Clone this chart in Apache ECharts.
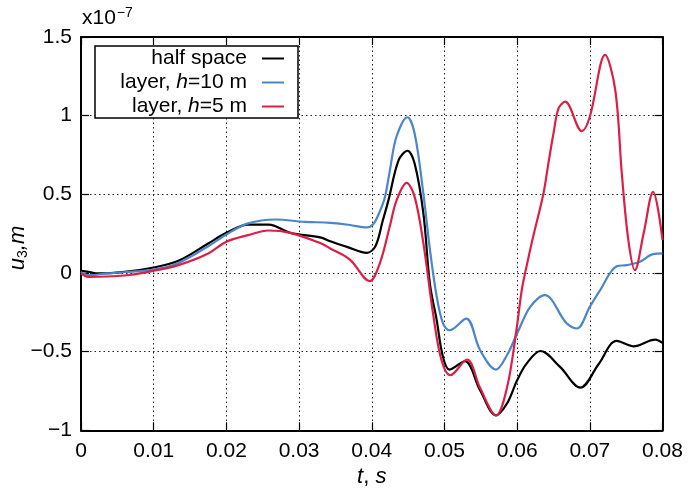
<!DOCTYPE html>
<html><head><meta charset="utf-8">
<script src="https://cdn.jsdelivr.net/npm/echarts@6/dist/echarts.min.js"></script>
<style>html,body{margin:0;padding:0;background:#fff}#c{width:689px;height:498px}</style>
</head><body><div id="c"></div>
<script>
// units: u3 in 1e-7 m, t in s
const halfSpaceT = [0, 0.001, 0.0024, 0.006, 0.01, 0.0134, 0.0175, 0.02, 0.023, 0.0258, 0.0288, 0.0329, 0.0343, 0.0366, 0.0393, 0.0405, 0.0415, 0.0423, 0.0437, 0.0449, 0.0459, 0.0471, 0.048, 0.0489, 0.0498, 0.0507, 0.0528, 0.0549, 0.0571, 0.0586, 0.06, 0.0613, 0.0632, 0.0659, 0.0687, 0.0712, 0.0737, 0.076, 0.079, 0.08];
const halfSpaceU = [0.013, 0.007, -0.003, 0.007, 0.035, 0.077, 0.187, 0.255, 0.308, 0.308, 0.255, 0.226, 0.202, 0.166, 0.128, 0.17, 0.33, 0.463, 0.717, 0.777, 0.696, 0.38, -0.07, -0.29, -0.534, -0.614, -0.561, -0.745, -0.905, -0.83, -0.682, -0.576, -0.496, -0.597, -0.729, -0.58, -0.432, -0.466, -0.423, -0.445];

const layer10T = [0, 0.001, 0.0035, 0.01, 0.0134, 0.0175, 0.02, 0.023, 0.0267, 0.0308, 0.0343, 0.037, 0.0393, 0.0402, 0.041, 0.0418, 0.0425, 0.0434, 0.0449, 0.0459, 0.0471, 0.048, 0.0489, 0.0498, 0.0507, 0.053, 0.0549, 0.0571, 0.0586, 0.06, 0.0618, 0.0638, 0.0668, 0.0682, 0.07, 0.0714, 0.0737, 0.0751, 0.0769, 0.0787, 0.08];
const layer10U = [0.005, -0.014, -0.003, 0.022, 0.064, 0.17, 0.245, 0.315, 0.34, 0.325, 0.319, 0.305, 0.29, 0.31, 0.38, 0.48, 0.654, 0.866, 0.99, 0.887, 0.505, 0.15, -0.14, -0.32, -0.364, -0.29, -0.49, -0.614, -0.523, -0.385, -0.215, -0.141, -0.32, -0.353, -0.215, -0.11, 0.043, 0.05, 0.071, 0.12, 0.124];

const layer5T = [0, 0.001, 0.006, 0.01, 0.0134, 0.0175, 0.02, 0.023, 0.0258, 0.0288, 0.0329, 0.0343, 0.037, 0.0397, 0.0411, 0.0425, 0.0434, 0.0448, 0.0459, 0.0471, 0.0485, 0.0496, 0.0508, 0.0531, 0.0549, 0.0571, 0.0586, 0.0599, 0.0606, 0.0611, 0.0622, 0.0636, 0.0643, 0.065, 0.0657, 0.0666, 0.0689, 0.07, 0.0721, 0.0735, 0.0744, 0.0753, 0.0762, 0.0774, 0.0787, 0.08];
const layer5U = [-0.003, -0.025, -0.016, 0.014, 0.05, 0.124, 0.199, 0.241, 0.27, 0.255, 0.19, 0.156, 0.085, -0.052, 0.06, 0.3, 0.46, 0.573, 0.484, 0.19, -0.279, -0.555, -0.65, -0.55, -0.73, -0.905, -0.73, -0.364, -0.12, 0.0, 0.23, 0.5, 0.697, 0.887, 1.046, 1.089, 0.902, 0.993, 1.386, 1.163, 0.633, 0.209, 0.018, 0.251, 0.516, 0.209];

const seriesNames = ['half space', 'layer, h=10 m', 'layer, h=5 m'];
const seriesColors = ['#000000', '#4a86c8', '#dc1f45'];
const xTickLabels = ['0', '0.01', '0.02', '0.03', '0.04', '0.05', '0.06', '0.07', '0.08'];
const yTickLabels = ['\u22121', '\u22120.5', '0', '0.5', '1', '1.5'];

const FF = 'Liberation Sans, Arial, Helvetica, sans-serif';
const zip = (a, b) => a.map((v, i) => [v, b[i]]);

const chart = echarts.init(document.getElementById('c'));
const baseAxisLine = { show: true, onZero: false, lineStyle: { color: '#000', width: 2 } };
const tick = { show: true, inside: true, length: 8, lineStyle: { color: '#000', width: 1.2 } };
const dotted = { show: true, lineStyle: { color: '#222', width: 1, type: [1.5, 3] } };

chart.setOption({
  animation: false,
  backgroundColor: '#fff',
  grid: { left: 81, right: 26.5, top: 37, bottom: 67.7 },
  xAxis: [{
    type: 'value', min: 0, max: 0.08, interval: 0.01, position: 'bottom',
    axisLine: baseAxisLine, axisTick: tick, splitLine: dotted,
    axisLabel: { color: '#000', fontFamily: FF, fontSize: 21, margin: 10,
      formatter: v => xTickLabels[Math.round(v / 0.01)] },
    name: '{i|t}, {i|s}', nameLocation: 'middle', nameGap: 36,
    nameTextStyle: { color: '#000', fontFamily: FF, fontSize: 22,
      rich: { i: { fontStyle: 'italic', fontFamily: FF, fontSize: 22, color: '#000' } } }
  }, {
    type: 'value', min: 0, max: 0.08, interval: 0.01, position: 'top',
    axisLine: baseAxisLine, axisTick: tick, splitLine: { show: false }, axisLabel: { show: false }
  }],
  yAxis: [{
    type: 'value', min: -1, max: 1.5, interval: 0.5, position: 'left',
    axisLine: baseAxisLine, axisTick: tick, splitLine: dotted,
    axisLabel: { color: '#000', fontFamily: FF, fontSize: 21, margin: 9,
      formatter: v => yTickLabels[Math.round((v + 1) / 0.5)] }
  }, {
    type: 'value', min: -1, max: 1.5, interval: 0.5, position: 'right',
    axisLine: baseAxisLine, axisTick: tick, splitLine: { show: false }, axisLabel: { show: false }
  }],
  legend: {
    orient: 'vertical', left: 95, top: 46, align: 'right',
    padding: [2, 14, 1, 12], itemGap: 3, itemWidth: 22, itemHeight: 2,
    backgroundColor: '#fff', borderColor: '#000', borderWidth: 1.5,
    icon: 'rect',
    data: seriesNames,
    formatter: n => n.replace('h=', '{i|h}='),
    textStyle: { color: '#000', fontFamily: FF, fontSize: 21, width: 140, align: 'right', lineHeight: 20,
      padding: [0, 10, 0, 0],
      rich: { i: { fontStyle: 'italic', fontFamily: FF, fontSize: 21, color: '#000' } } }
  },
  graphic: [{
    type: 'text', left: 82, top: 6, z: 10,
    style: { text: 'x10{sup|\u22127}', fontFamily: FF, fontSize: 21, fill: '#000',
      rich: { sup: { fontSize: 14, fontFamily: FF, verticalAlign: 'top', padding: [0, 0, 10, 1] } } }
  }, {
    type: 'text', x: 18, y: 248, rotation: Math.PI / 2, z: 10,
    style: { text: '{i|u}{s|3}{i|,m}', align: 'center', verticalAlign: 'middle', fill: '#000',
      rich: {
        i: { fontStyle: 'italic', fontFamily: FF, fontSize: 22, lineHeight: 24 },
        s: { fontFamily: FF, fontSize: 14, verticalAlign: 'bottom', lineHeight: 14 }
      } }
  }],
  series: [
    { name: seriesNames[0], type: 'line', data: zip(halfSpaceT, halfSpaceU) },
    { name: seriesNames[1], type: 'line', data: zip(layer10T, layer10U) },
    { name: seriesNames[2], type: 'line', data: zip(layer5T, layer5U) }
  ].map((s, i) => Object.assign(s, {
    smooth: 0.35, showSymbol: false, symbol: 'none', clip: true,
    color: seriesColors[i], lineStyle: { color: seriesColors[i], width: 2.2 }
  }))
});
</script>
</body></html>
